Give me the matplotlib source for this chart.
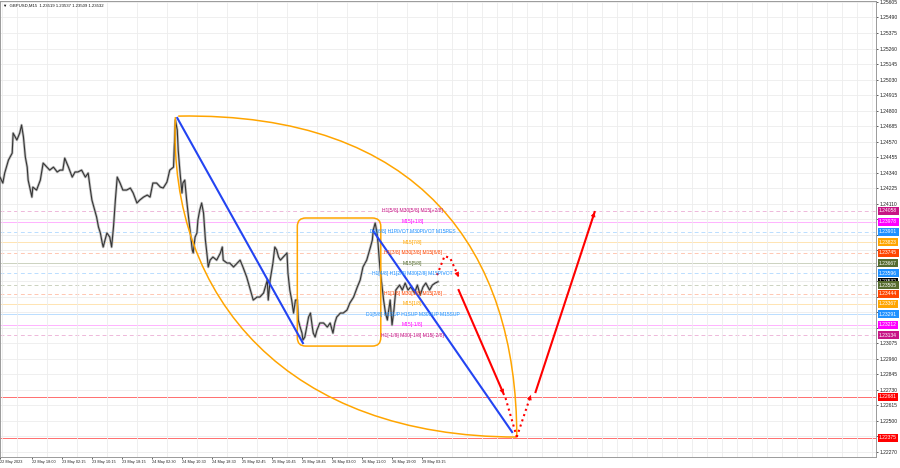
import numpy as np
import matplotlib.pyplot as plt
from matplotlib.patches import FancyBboxPatch, PathPatch
from matplotlib.path import Path

plt.rcParams['font.family'] = ['Liberation Sans', 'DejaVu Sans']

# GBPUSD M15 - kurs (numer swiecy, cena)
bars = [0, 3, 5, 9, 13, 14, 18, 21, 23, 25, 27, 29, 30, 34, 35, 39, 43, 46, 50, 53,
        57, 61, 64, 67, 69, 73, 77, 80, 83, 87, 91, 94, 96, 98, 101, 103, 105, 107, 109, 110,
        112, 114, 117, 119, 121, 123, 125, 128, 131, 135, 139, 142, 146, 149, 153, 157, 160, 163, 167, 171,
        174, 178, 181, 185, 187, 189, 190, 192, 194, 195, 197, 199, 201, 203, 205, 206, 208, 210, 211, 213,
        215, 217, 219, 221, 222, 224, 227, 231, 235, 237, 238, 242, 245, 249, 253, 256, 259, 263, 267, 270,
        274, 277, 281, 285, 286, 288, 291, 293, 295, 297, 299, 302, 306, 307, 309, 311, 313, 315, 317, 318,
        320, 322, 323, 325, 327, 329, 331, 333, 334, 336, 338, 341, 345, 349, 352, 354, 355, 357, 359, 363,
        366, 370, 373, 377, 381, 384, 387, 391, 395, 397, 398, 400, 402, 403, 405, 407, 409, 411, 413, 414,
        416, 418, 420, 422, 426, 429, 432, 435, 438, 442, 445, 448, 451, 454, 458, 461, 464, 467]
close = [1.24307, 1.24263, 1.24337, 1.24433, 1.24485, 1.24633, 1.24582, 1.24633, 1.24693, 1.24604,
         1.24456, 1.24381, 1.24285, 1.24159, 1.24233, 1.24211, 1.24285, 1.24411, 1.24381, 1.24359,
         1.24381, 1.24345, 1.24359, 1.24359, 1.24448, 1.24381, 1.24307, 1.24345, 1.24345, 1.24359,
         1.24307, 1.24337, 1.24233, 1.24137, 1.24063, 1.24011, 1.23937, 1.23893, 1.23819, 1.23789,
         1.23841, 1.23893, 1.23863, 1.23789, 1.23937, 1.24137, 1.24307, 1.24263, 1.24211, 1.24211,
         1.24226, 1.24189, 1.24115, 1.24137, 1.24159, 1.24174, 1.24159, 1.24263, 1.24263, 1.24233,
         1.24226, 1.24270, 1.24359, 1.24381, 1.24730, 1.24656, 1.24507, 1.24337, 1.24189, 1.24263,
         1.24285, 1.24137, 1.24011, 1.23893, 1.23767, 1.23745, 1.23863, 1.23893, 1.23989, 1.24063,
         1.24115, 1.24041, 1.23841, 1.23715, 1.23641, 1.23692, 1.23715, 1.23692, 1.23745, 1.23789,
         1.23692, 1.23670, 1.23670, 1.23641, 1.23670, 1.23692, 1.23641, 1.23567, 1.23470, 1.23396,
         1.23418, 1.23418, 1.23448, 1.23544, 1.23396, 1.23544, 1.23670, 1.23789, 1.23767, 1.23715,
         1.23692, 1.23715, 1.23745, 1.23596, 1.23470, 1.23396, 1.23300, 1.23396, 1.23396, 1.23248,
         1.23196, 1.23151, 1.23100, 1.23122, 1.23196, 1.23270, 1.23300, 1.23196, 1.23151, 1.23122,
         1.23174, 1.23226, 1.23226, 1.23196, 1.23226, 1.23174, 1.23151, 1.23226, 1.23270, 1.23300,
         1.23300, 1.23322, 1.23374, 1.23418, 1.23493, 1.23544, 1.23641, 1.23692, 1.23789, 1.23841,
         1.23915, 1.23967, 1.23893, 1.23819, 1.23641, 1.23522, 1.23396, 1.23300, 1.23248, 1.23300,
         1.23396, 1.23211, 1.23322, 1.23470, 1.23507, 1.23470, 1.23522, 1.23470, 1.23493, 1.23448,
         1.23507, 1.23433, 1.23493, 1.23522, 1.23470, 1.23507, 1.23522, 1.23532]

# os czasu
date_ticks = [0, 34, 66, 98, 130, 162, 194, 226, 258, 290, 322, 354, 386, 418, 450]
date_labels = ['22 May 2023', '22 May 18:00', '23 May 02:15', '23 May 10:15', '23 May 18:15',
               '24 May 02:30', '24 May 10:30', '24 May 18:30', '25 May 02:45', '25 May 10:45',
               '25 May 18:45', '26 May 03:00', '26 May 11:00', '26 May 19:00', '29 May 03:15']

# poziomy Murreya
lvl_price = [1.24058, 1.23978, 1.23901, 1.23823, 1.23745, 1.23667, 1.23596, 1.23505,
             1.23444, 1.23367, 1.23291, 1.23212, 1.23134]
lvl_color = ['#c71585', '#ff00ff', '#1e90ff', '#ffa500', '#ff4500', '#556b2f', '#1e90ff', '#556b2f',
             '#ff4500', '#ffa500', '#1e90ff', '#ff00ff', '#c71585']
lvl_dash = [True, False, True, False, True, False, True, True, True, False, False, False, True]
lvl_text = ['H1[5/8] M30[5/8] M15[+2/8]', 'M15[+1/8]', 'D1[6/8] H1PIVOT M30PIVOT M15RES', 'M15[7/8]',
            'H1[3/8] M30[3/8] M15[6/8]', 'M15[5/8]', 'H1[4/8] H1[2/8] M30[2/8] M15PIVOT', '',
            'H1[1/8] M30[1/8] M15[2/8]', 'M15[1/8]', 'D1[5/8] H1SUP H1SUP M30SUP M15SUP', 'M15[-1/8]',
            'H1[-1/8] M30[-1/8] M15[-2/8]']
red_lvls = [1.22681, 1.22375]
last_price = 1.23532

# obiekty narysowane na wykresie (swieca, cena)
blue1 = [(189, 1.24745), (323, 1.23077)]
blue2 = [(398, 1.23907), (546, 1.22418)]
box = (317, 1.23055, 406, 1.24004)
lens_top = [(190, 1.24759), (448, 1.24789), (551, 1.23767), (551, 1.22381)]
lens_left = [(187, 1.24752), (179, 1.23396), (309, 1.22381), (551, 1.22381)]
red_down = [(489, 1.23470), (537, 1.22700)]
red_down_dot = [(539, 1.22670), (551, 1.22381)]
red_up_dot = [(551, 1.22381), (566, 1.22692)]
red_up = [(571, 1.22714), (634, 1.24048)]
hook_x = [466, 474, 480, 489]
hook_y = [1.23581, 1.23722, 1.23707, 1.23567]

y0, ystep = 1.22270, 0.00115
ylo, yhi = 1.22233, 1.25612

fig = plt.figure(figsize=(9, 4.68), dpi=100)
ax = fig.add_axes([0.0, 11 / 468, 876 / 900, 456 / 468])
ax.set_xlim(0, 934)
ax.set_ylim(ylo, yhi)

box_price = lvl_price[:7] + [last_price] + lvl_price[7:] + red_lvls
box_color = lvl_color[:7] + ['black'] + lvl_color[7:] + ['#ff0000', '#ff0000']

# siatka, etykiety schowane pod kolorowymi ramkami sa pomijane
yt = y0 + ystep * np.arange(0, 30)
px_per_price = 456 / (yhi - ylo)
ylab = []
for v in yt:
    hidden = any(abs(v - p) * px_per_price < 6.5 for p in box_price)
    ylab.append('' if hidden else f'{v:.5f}')
ax.set_yticks(yt)
ax.set_yticklabels(ylab, fontsize=3.6)
ax.yaxis.tick_right()
ax.set_xticks(date_ticks)
ax.set_xticklabels(date_labels, fontsize=2.8, ha='left')
ax.set_xticks(np.arange(2, 934, 16), minor=True)
ax.tick_params(axis='x', which='minor', length=0)
ax.tick_params(axis='both', which='major', length=1.5, width=0.5, pad=0.8, colors='#222222')
ax.grid(which='minor', axis='x', color='#ededed', lw=0.6)
ax.grid(which='major', axis='y', color='#ededed', lw=0.6)
for s in ax.spines.values():
    s.set_color('#9a9a9a')
    s.set_linewidth(0.7)

for p, c, d in zip(lvl_price, lvl_color, lvl_dash):
    ax.axhline(p, color=c, lw=0.7, alpha=0.3, ls=(0, (4, 3)) if d else '-', zorder=1)
for p in red_lvls:
    ax.axhline(p, color='#ff3030', lw=0.7, alpha=0.7, zorder=1)

# kurs
ax.plot(bars, close, color='#c0c0c0', lw=1.9, zorder=2)
ax.plot(bars, close, color='#353535', lw=0.8, zorder=3)

# soczewka i prostokat
codes = [Path.MOVETO, Path.CURVE4, Path.CURVE4, Path.CURVE4]
for pts in (lens_top, lens_left):
    ax.add_patch(PathPatch(Path(pts, codes), fc='none', ec='#ffa500', lw=1.1, zorder=4))
px_ratio = (yhi - ylo) / 456 / (934 / 876)
ax.add_patch(FancyBboxPatch((box[0], box[1]), box[2] - box[0], box[3] - box[1],
                            boxstyle='round,pad=0,rounding_size=9', mutation_aspect=px_ratio,
                            fc='none', ec='#ffa500', lw=1.1, zorder=4))

for ln in (blue1, blue2):
    ax.plot([ln[0][0], ln[1][0]], [ln[0][1], ln[1][1]], color='#2344f2', lw=1.5, zorder=5)

# strzalki
def head(a, b):
    tail = (b[0] - (b[0] - a[0]) * 0.12, b[1] - (b[1] - a[1]) * 0.12)
    ax.annotate('', xy=b, xytext=tail, zorder=6,
                arrowprops=dict(arrowstyle='-|>', color='red', lw=0.5, mutation_scale=7,
                                shrinkA=0, shrinkB=0))

for seg in (red_down, red_up):
    ax.plot([seg[0][0], seg[1][0]], [seg[0][1], seg[1][1]], color='red', lw=1.5, zorder=6)
    head(seg[0], seg[1])
for seg in (red_down_dot, red_up_dot):
    ax.plot([seg[0][0], seg[1][0]], [seg[0][1], seg[1][1]], color='red', lw=1.5, ls=':', zorder=6)
head(red_up_dot[0], red_up_dot[1])
ax.plot(hook_x, hook_y, color='red', lw=1.5, ls=':', zorder=6)
head((hook_x[-2], hook_y[-2]), (hook_x[-1], hook_y[-1]))

# opisy poziomow
for p, c, t in zip(lvl_price, lvl_color, lvl_text):
    if t:
        ax.text(440, p, t, color=c, fontsize=3.6, ha='center', va='center', zorder=7)

# etykiety cen po prawej
for p, c in zip(box_price, box_color):
    ax.text(1.0035, p, f'{p:.5f}', transform=ax.get_yaxis_transform(), fontsize=3.6,
            color='white', ha='left', va='center', clip_on=False, zorder=8,
            bbox=dict(boxstyle='square,pad=0.3', fc=c, ec='none'))

ax.text(0.003, 0.994, '\u25bc  GBPUSD,M15  1.23519 1.23537 1.23509 1.23532', transform=ax.transAxes,
        fontsize=3.1, va='top', ha='left', color='#111111')

fig.savefig('out.png', dpi=100)
